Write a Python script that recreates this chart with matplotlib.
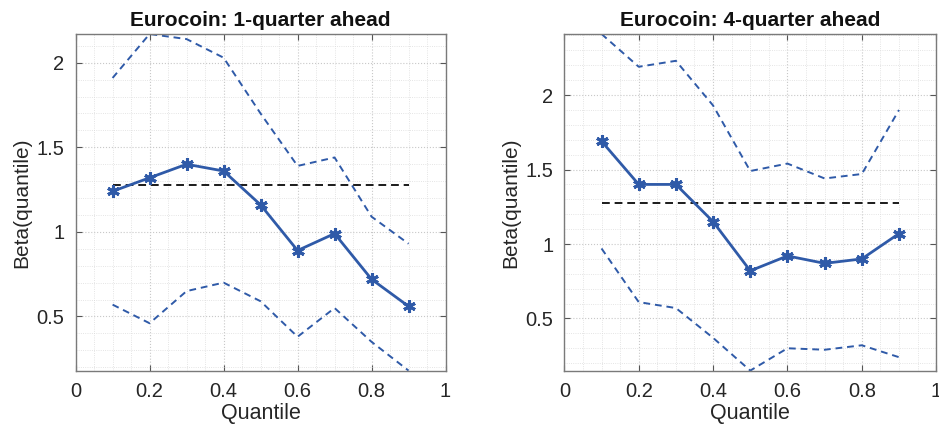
import matplotlib
matplotlib.use("Agg")
import matplotlib.pyplot as plt
from matplotlib.ticker import MultipleLocator

quantiles = [0.1, 0.2, 0.3, 0.4, 0.5, 0.6, 0.7, 0.8, 0.9]

q1_beta = [1.24, 1.32, 1.40, 1.36, 1.16, 0.89, 0.99, 0.72, 0.56]
q1_upper = [1.91, 2.17, 2.14, 2.03, 1.70, 1.39, 1.44, 1.09, 0.93]
q1_lower = [0.57, 0.46, 0.65, 0.70, 0.59, 0.38, 0.55, 0.35, 0.18]
q1_ols = 1.28

q4_beta = [1.69, 1.40, 1.40, 1.15, 0.82, 0.92, 0.87, 0.90, 1.07]
q4_upper = [2.41, 2.19, 2.23, 1.93, 1.49, 1.54, 1.44, 1.47, 1.90]
q4_lower = [0.97, 0.61, 0.57, 0.37, 0.15, 0.30, 0.29, 0.32, 0.24]
q4_ols = 1.275

titles = ["Eurocoin: 1-quarter ahead", "Eurocoin: 4-quarter ahead"]
x_ticks = [0, 0.2, 0.4, 0.6, 0.8, 1]
x_ticklabels = ["0", "0.2", "0.4", "0.6", "0.8", "1"]
y_ticks = [0.5, 1, 1.5, 2]
y_ticklabels = ["0.5", "1", "1.5", "2"]

plt.rcParams['font.family'] = ['Liberation Sans', 'DejaVu Sans']

fig = plt.figure(figsize=(9.39, 4.25), dpi=100)
positions = [[0.0805, 0.128, 0.394, 0.792], [0.601, 0.128, 0.396, 0.792]]
blue = '#2f5aa8'
txt = '#262626'

panels = [(q1_beta, q1_upper, q1_lower, q1_ols), (q4_beta, q4_upper, q4_lower, q4_ols)]
for i, (beta, up, lo, ols) in enumerate(panels):
    ax = fig.add_axes(positions[i])
    ax.plot(quantiles, up, linestyle=(0, (3.5, 2.5)), color=blue, lw=1.4)
    ax.plot(quantiles, lo, linestyle=(0, (3.5, 2.5)), color=blue, lw=1.4)
    ax.plot([quantiles[0], quantiles[-1]], [ols, ols], linestyle=(0, (4, 2.5)), color='#1a1a1a', lw=1.4)
    ax.plot(quantiles, beta, '-', color=blue, lw=2.0, marker=(6, 2, 0), markersize=9,
            markeredgewidth=2.2)
    ax.set_xlim(0, 1)
    ax.set_ylim(min(lo), max(up))
    ax.set_xticks(x_ticks)
    ax.set_xticklabels(x_ticklabels)
    ax.set_yticks(y_ticks)
    ax.set_yticklabels(y_ticklabels)
    ax.xaxis.set_minor_locator(MultipleLocator(0.05))
    ax.yaxis.set_minor_locator(MultipleLocator(0.1))
    ax.grid(which='major', linestyle=':', color='#c8c8c8', lw=0.8)
    ax.grid(which='minor', linestyle=':', color='#dcdcdc', lw=0.6)
    ax.set_axisbelow(True)
    ax.tick_params(which='major', direction='in', length=4, top=True, right=True,
                   labelsize=14.5, colors='#555555', labelcolor=txt, pad=8)
    ax.tick_params(which='minor', length=0)
    for s in ax.spines.values():
        s.set_color('#7a7a7a')
        s.set_linewidth(1.0)
    ax.set_title(titles[i], fontsize=15, fontweight='bold', color='#111111', pad=6)
    ax.set_xlabel("Quantile", fontsize=15.5, color=txt, labelpad=2)
    ax.set_ylabel("Beta(quantile)", fontsize=15, color=txt, labelpad=4)

fig.savefig("out.png", dpi=100, facecolor='white')
